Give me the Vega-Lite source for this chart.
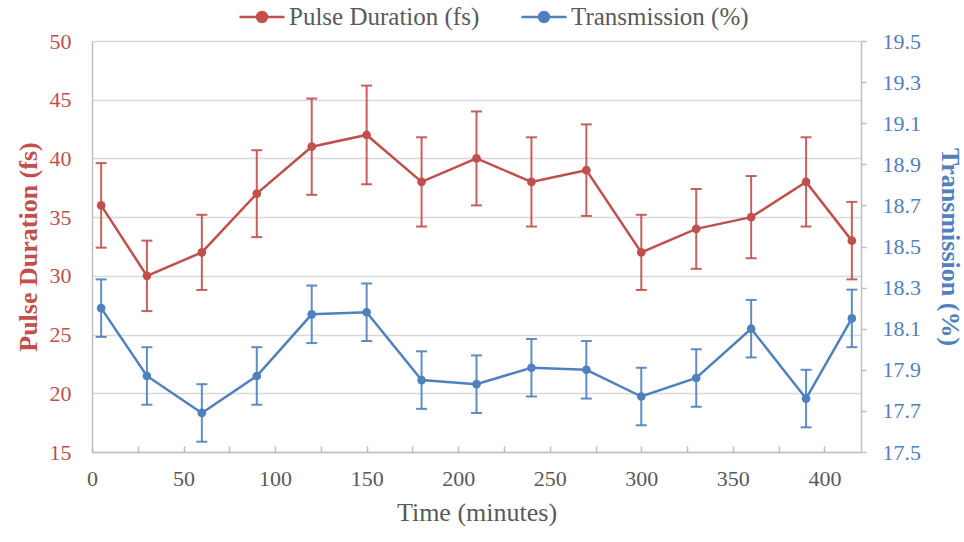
{
  "$schema": "https://vega.github.io/schema/vega-lite/v6.json",
  "autosize": {"type": "none"},
  "width": 769,
  "height": 411,
  "padding": {"left": 92, "top": 41, "right": 103, "bottom": 90},
  "background": "white",
  "config": {
    "font": "Liberation Serif",
    "view": {"stroke": null},
    "axis": {"labelFont": "Liberation Serif", "titleFont": "Liberation Serif", "domainColor": "#BFBFBF", "domainWidth": 1.5, "tickColor": "#BFBFBF", "tickWidth": 1.5, "labelFlush": false}
  },
  "data": {
    "values": [
      {"series": "Pulse Duration (fs)", "time": 5, "value": 36, "err": 3.6},
      {"series": "Pulse Duration (fs)", "time": 30, "value": 30, "err": 3.0},
      {"series": "Pulse Duration (fs)", "time": 60, "value": 32, "err": 3.2},
      {"series": "Pulse Duration (fs)", "time": 90, "value": 37, "err": 3.7},
      {"series": "Pulse Duration (fs)", "time": 120, "value": 41, "err": 4.1},
      {"series": "Pulse Duration (fs)", "time": 150, "value": 42, "err": 4.2},
      {"series": "Pulse Duration (fs)", "time": 180, "value": 38, "err": 3.8},
      {"series": "Pulse Duration (fs)", "time": 210, "value": 40, "err": 4.0},
      {"series": "Pulse Duration (fs)", "time": 240, "value": 38, "err": 3.8},
      {"series": "Pulse Duration (fs)", "time": 270, "value": 39, "err": 3.9},
      {"series": "Pulse Duration (fs)", "time": 300, "value": 32, "err": 3.2},
      {"series": "Pulse Duration (fs)", "time": 330, "value": 34, "err": 3.4},
      {"series": "Pulse Duration (fs)", "time": 360, "value": 35, "err": 3.5},
      {"series": "Pulse Duration (fs)", "time": 390, "value": 38, "err": 3.8},
      {"series": "Pulse Duration (fs)", "time": 415, "value": 33, "err": 3.3},
      {"series": "Transmission (%)", "time": 5, "value": 18.2, "err": 0.14},
      {"series": "Transmission (%)", "time": 30, "value": 17.87, "err": 0.14},
      {"series": "Transmission (%)", "time": 60, "value": 17.69, "err": 0.14},
      {"series": "Transmission (%)", "time": 90, "value": 17.87, "err": 0.14},
      {"series": "Transmission (%)", "time": 120, "value": 18.17, "err": 0.14},
      {"series": "Transmission (%)", "time": 150, "value": 18.18, "err": 0.14},
      {"series": "Transmission (%)", "time": 180, "value": 17.85, "err": 0.14},
      {"series": "Transmission (%)", "time": 210, "value": 17.83, "err": 0.14},
      {"series": "Transmission (%)", "time": 240, "value": 17.91, "err": 0.14},
      {"series": "Transmission (%)", "time": 270, "value": 17.9, "err": 0.14},
      {"series": "Transmission (%)", "time": 300, "value": 17.77, "err": 0.14},
      {"series": "Transmission (%)", "time": 330, "value": 17.86, "err": 0.14},
      {"series": "Transmission (%)", "time": 360, "value": 18.1, "err": 0.14},
      {"series": "Transmission (%)", "time": 390, "value": 17.76, "err": 0.14},
      {"series": "Transmission (%)", "time": 415, "value": 18.15, "err": 0.14}
    ]
  },
  "encoding": {
    "x": {
      "field": "time",
      "type": "quantitative",
      "scale": {"domain": [0, 420], "nice": false, "zero": false},
      "axis": {
        "title": "Time (minutes)",
        "titleFontSize": 26,
        "titleFontWeight": "normal",
        "titleColor": "#595959",
        "titlePadding": 10,
        "values": [0, 25, 50, 75, 100, 125, 150, 175, 200, 225, 250, 275, 300, 325, 350, 375, 400],
        "labelExpr": "datum.value % 50 === 0 ? datum.label : ''",
        "labelFontSize": 22,
        "labelColor": "#595959",
        "tickSize": -6,
        "labelPadding": 22,
        "grid": false
      }
    },
    "color": {
      "field": "series",
      "type": "nominal",
      "scale": {"domain": ["Pulse Duration (fs)", "Transmission (%)"], "range": ["#C0504D", "#4F81BD"]},
      "legend": {
        "title": null,
        "orient": "none",
        "direction": "horizontal",
        "legendX": 146,
        "legendY": -48,
        "labelFont": "Liberation Serif",
        "labelFontSize": 25,
        "labelColor": "#595959",
        "labelLimit": 0,
        "labelOffset": 3,
        "columnPadding": 36,
        "symbolType": "M-1,0H1M-0.22,0A0.22,0.22,0,1,0,0.22,0A0.22,0.22,0,1,0,-0.22,0Z",
        "symbolSize": 2025,
        "symbolStrokeWidth": 2.5,
        "encode": {"symbols": {"update": {"fill": {"scale": "color", "field": "value"}, "fillOpacity": {"value": 1}}}}
      }
    }
  },
  "layer": [
    {
      "transform": [{"filter": "datum.series === 'Pulse Duration (fs)'"}],
      "encoding": {
        "y": {
          "field": "value",
          "type": "quantitative",
          "scale": {"domain": [15, 50], "nice": false, "zero": false},
          "axis": {
            "orient": "left",
            "title": "Pulse Duration (fs)",
            "titleFontSize": 26,
            "titleFontWeight": "bold",
            "titleColor": "#C0504D",
            "titlePadding": 8,
            "values": [15, 20, 25, 30, 35, 40, 45, 50],
            "labelFontSize": 22,
            "labelColor": "#C0504D",
            "labelPadding": 21,
            "ticks": false,
            "grid": true,
            "gridColor": "#D9D9D9",
            "gridWidth": 1.5
          }
        }
      },
      "layer": [
        {"mark": {"type": "errorbar", "ticks": {"size": 11, "thickness": 2}, "rule": {"strokeWidth": 2}, "opacity": 0.9}, "encoding": {"yError": {"field": "err"}}},
        {"mark": {"type": "line", "strokeWidth": 2.5}},
        {"mark": {"type": "point", "filled": true, "size": 75, "opacity": 1}}
      ]
    },
    {
      "transform": [{"filter": "datum.series === 'Transmission (%)'"}],
      "encoding": {
        "y": {
          "field": "value",
          "type": "quantitative",
          "scale": {"domain": [17.5, 19.5], "nice": false, "zero": false},
          "axis": {
            "orient": "right",
            "title": "Transmission (%)",
            "titleFontSize": 26,
            "titleFontWeight": "bold",
            "titleColor": "#4F81BD",
            "titlePadding": 16,
            "values": [17.5, 17.7, 17.9, 18.1, 18.3, 18.5, 18.7, 18.9, 19.1, 19.3, 19.5],
            "format": ".1f",
            "labelFontSize": 22,
            "labelColor": "#4F81BD",
            "labelPadding": 16,
            "tickSize": 5,
            "grid": false
          }
        }
      },
      "layer": [
        {"mark": {"type": "errorbar", "ticks": {"size": 11, "thickness": 2}, "rule": {"strokeWidth": 2}, "opacity": 0.9}, "encoding": {"yError": {"field": "err"}}},
        {"mark": {"type": "line", "strokeWidth": 2.5}},
        {"mark": {"type": "point", "filled": true, "size": 75, "opacity": 1}}
      ]
    }
  ],
  "resolve": {"scale": {"y": "independent"}}
}
